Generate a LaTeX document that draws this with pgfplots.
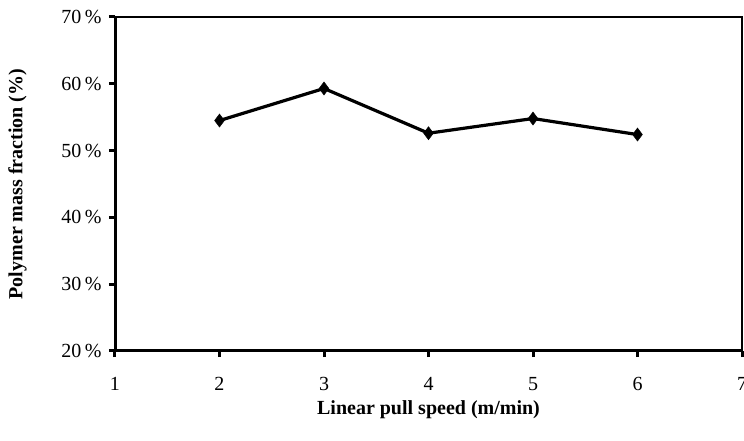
\documentclass[border=0pt]{standalone}
\usepackage{fontspec}
\setmainfont{Liberation Serif}
\usepackage{pgfplots}
\pgfplotsset{compat=1.18}

\begin{document}
\begin{tikzpicture}[x=1pt,y=1pt]
\begin{axis}[
    scale only axis,
    width=627pt, height=334pt,
    xmin=1, xmax=7,
    ymin=20, ymax=70,
    xtick={1,...,7},
    ytick={20,30,...,70},
    yticklabel={\pgfmathprintnumber{\tick}\,\%},
    /pgf/number format/assume math mode=true,
    xtick pos=bottom, ytick pos=left,
    tick align=outside,
    major tick length=6pt,
    tick style={line width=3pt, black},
    axis line style={line width=1.5pt},
    ticklabel style={font=\fontsize{20}{22}\selectfont},
    xticklabel style={yshift=-17pt},
    yticklabel style={xshift=-4pt},
    xlabel={\textbf{Linear pull speed (m/min)}},
    ylabel={\textbf{Polymer mass fraction (\%)}},
    label style={font=\fontsize{20}{22}\selectfont},
    xlabel style={yshift=-3pt},
    ylabel style={yshift=28pt},
]
\addplot[black, line width=3.2pt, mark=diamond*, mark size=6.5pt,
    mark options={solid, line width=0.5pt}]
  coordinates {(2,54.5) (3,59.3) (4,52.6) (5,54.8) (6,52.4)};
\draw[line width=3.5pt] (rel axis cs:0,1) -- (rel axis cs:0,0) -- (rel axis cs:1,0);
\end{axis}
\pgfresetboundingbox
\path[use as bounding box] (-115,-90) rectangle (629,351);
\end{tikzpicture}
\end{document}
